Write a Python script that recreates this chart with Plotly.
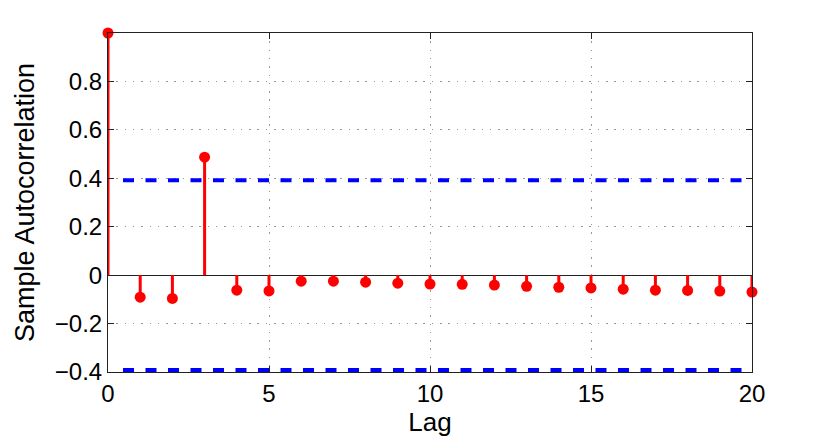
import plotly.graph_objects as go

lags = list(range(21))
acf = [1.0, -0.091, -0.096, 0.487, -0.062, -0.065, -0.025, -0.025, -0.029, -0.033,
       -0.037, -0.038, -0.041, -0.046, -0.050, -0.053, -0.058, -0.062, -0.063, -0.066, -0.070]
bound = 0.392
x_ticks = [0, 5, 10, 15, 20]
y_ticks = [-0.4, -0.2, 0, 0.2, 0.4, 0.6, 0.8]
y_tick_text = ["\u22120.4", "\u22120.2", "0", "0.2", "0.4", "0.6", "0.8"]

stem_x, stem_y = [], []
for l, v in zip(lags, acf):
    stem_x += [l, l, None]
    stem_y += [0, v, None]

# dash pattern: initial gap then repeating dash/gap (MATLAB-like phase)
bound_dash = "0px,15px" + ",11px,11.5px" * 30

fig = go.Figure()
for b in (bound, -bound):
    fig.add_trace(go.Scatter(x=[lags[0], lags[-1]], y=[b, b], mode="lines",
                             line=dict(color="#0000ff", width=4, dash=bound_dash),
                             hoverinfo="skip"))
fig.add_trace(go.Scatter(x=stem_x, y=stem_y, mode="lines",
                         line=dict(color="#ff0000", width=3), cliponaxis=False))
fig.add_trace(go.Scatter(x=lags, y=acf, mode="markers",
                         marker=dict(color="#ff0000", size=11), cliponaxis=False))

family = "Liberation Sans, Arial, sans-serif"
font = dict(family=family, size=24, color="black")
xtitle_font = dict(family=family, size=26, color="black")
ytitle_font = dict(family=family, size=27, color="black")
grid_dash = "1.5px,6.8px"
fig.update_layout(
    width=830, height=438,
    margin=dict(l=100, r=86, t=25, b=74),
    paper_bgcolor="white", plot_bgcolor="white",
    showlegend=False, font=font,
)
fig.update_xaxes(range=[0, 20], tickvals=x_ticks, ticks="inside", ticklen=6,
                 tickcolor="#222", showline=True, linecolor="#222", linewidth=1, mirror="ticks",
                 showgrid=True, gridcolor="#999", griddash=grid_dash, gridwidth=1, zeroline=False,
                 title=dict(text="Lag", standoff=0, font=xtitle_font), tickfont=font)
fig.update_yaxes(range=[-0.4, 1.0], tickvals=y_ticks, ticktext=y_tick_text, ticks="inside", ticklen=6,
                 tickcolor="#222", showline=True, linecolor="#222", linewidth=1, mirror="ticks",
                 showgrid=True, gridcolor="#999", griddash=grid_dash, gridwidth=1,
                 zeroline=True, zerolinecolor="#222", zerolinewidth=1,
                 title=dict(text="Sample Autocorrelation", standoff=12, font=ytitle_font),
                 tickfont=font)

fig.write_html("out.html")
